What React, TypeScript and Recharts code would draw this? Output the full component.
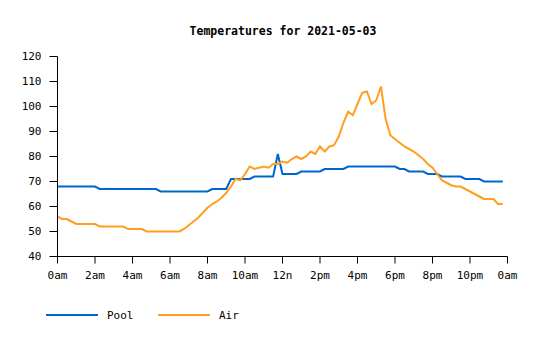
// Pool vs air temperature over one day, sampled every 15 minutes.
import { LineChart, Line, XAxis, YAxis, Legend } from 'recharts';

const FONT = '"DejaVu Sans Mono", "Liberation Mono", monospace';
const POOL_COLOR = '#0066cc';
const AIR_COLOR = '#ff9f20';

// one reading every 15 minutes, 0:00 .. 23:45
const pool = [
  68, 68, 68, 68, 68, 68, 68, 68, 68, 67, 67, 67, 67, 67, 67, 67,
  67, 67, 67, 67, 67, 67, 66, 66, 66, 66, 66, 66, 66, 66, 66, 66,
  66, 67, 67, 67, 67, 71, 71, 71, 71, 71, 72, 72, 72, 72, 72, 81,
  73, 73, 73, 73, 74, 74, 74, 74, 74, 75, 75, 75, 75, 75, 76, 76,
  76, 76, 76, 76, 76, 76, 76, 76, 76, 75, 75, 74, 74, 74, 74, 73,
  73, 73, 72, 72, 72, 72, 72, 71, 71, 71, 71, 70, 70, 70, 70, 70,
];

const air = [
  56, 55, 55, 54, 53, 53, 53, 53, 53, 52, 52, 52, 52, 52, 52, 51,
  51, 51, 51, 50, 50, 50, 50, 50, 50, 50, 50, 51, 52.5, 54, 55.5, 57.5,
  59.5, 61, 62, 63.5, 65.5, 68, 71, 70.5, 73, 76, 75, 75.5, 76, 75.5, 77, 77,
  78, 77.5, 79, 80, 79, 80, 82, 81, 84, 82, 84, 84.5, 88, 93.5, 98, 96.5,
  101, 105.5, 106, 101, 102.5, 108, 95, 88.5, 87, 85.5, 84, 83, 82, 80.5, 79, 77,
  75.5, 73, 70.5, 69.5, 68.5, 68, 68, 67, 66, 65, 64, 63, 63, 63, 61, 61,
];

const hourTicks = [0, 2, 4, 6, 8, 10, 12, 14, 16, 18, 20, 22, 24];
const tempTicks = [40, 50, 60, 70, 80, 90, 100, 110, 120];

const data = pool.map((p, i) => ({ hour: i / 4, pool: p, air: air[i] }));

const hourLabel = (h: number) => {
  if (h % 24 === 0) return '0am';
  if (h === 12) return '12n';
  return h < 12 ? `${h}am` : `${h - 12}pm`;
};

const legendItems = [
  { name: 'Pool', color: POOL_COLOR },
  { name: 'Air', color: AIR_COLOR },
];

function LegendContent() {
  return (
    <div style={{ display: 'flex', alignItems: 'center', height: 14 }}>
      {legendItems.map((it) => (
        <div key={it.name} style={{ display: 'flex', alignItems: 'center', width: 112 }}>
          <svg width={52} height={4} style={{ display: 'block' }}>
            <line x1={0} x2={52} y1={2} y2={2} stroke={it.color} strokeWidth={2} />
          </svg>
          <span style={{ marginLeft: 9, fontFamily: FONT, fontSize: 11, color: '#000' }}>
            {it.name}
          </span>
        </div>
      ))}
    </div>
  );
}

export default function App() {
  const tick = { fill: '#000', fontSize: 11, fontFamily: FONT };
  return (
    <div style={{ position: 'absolute', left: 0, top: 0, width: 540, height: 340, background: '#fff' }}>
      <div
        style={{
          position: 'absolute',
          top: 24,
          left: 0,
          width: 566,
          textAlign: 'center',
          fontFamily: FONT,
          fontSize: 11.5,
          fontWeight: 'bold',
          lineHeight: '14px',
          color: '#000',
        }}
      >
        Temperatures for 2021-05-03
      </div>
      <LineChart
        width={540}
        height={340}
        data={data}
        margin={{ top: 56.5, right: 32.5, left: 0.5, bottom: 53.5 }}
      >
        <XAxis
          dataKey="hour"
          type="number"
          domain={[0, 24]}
          ticks={hourTicks}
          tickFormatter={hourLabel}
          interval={0}
          tick={tick}
          tickSize={7}
          tickMargin={8}
          axisLine={{ stroke: '#000' }}
          tickLine={{ stroke: '#000' }}
          height={30}
        />
        <YAxis
          domain={[40, 120]}
          ticks={tempTicks}
          interval={0}
          tick={tick}
          tickSize={8}
          tickMargin={8}
          axisLine={{ stroke: '#000' }}
          tickLine={{ stroke: '#000' }}
          width={57}
        />
        <Line
          type="linear"
          dataKey="pool"
          name="Pool"
          stroke={POOL_COLOR}
          strokeWidth={2}
          dot={false}
          isAnimationActive={false}
        />
        <Line
          type="linear"
          dataKey="air"
          name="Air"
          stroke={AIR_COLOR}
          strokeWidth={2}
          dot={false}
          isAnimationActive={false}
        />
        <Legend
          layout="horizontal"
          verticalAlign="middle"
          align="center"
          content={LegendContent}
          wrapperStyle={{ top: 308, left: 46, width: 300, height: 14 }}
        />
      </LineChart>
    </div>
  );
}
